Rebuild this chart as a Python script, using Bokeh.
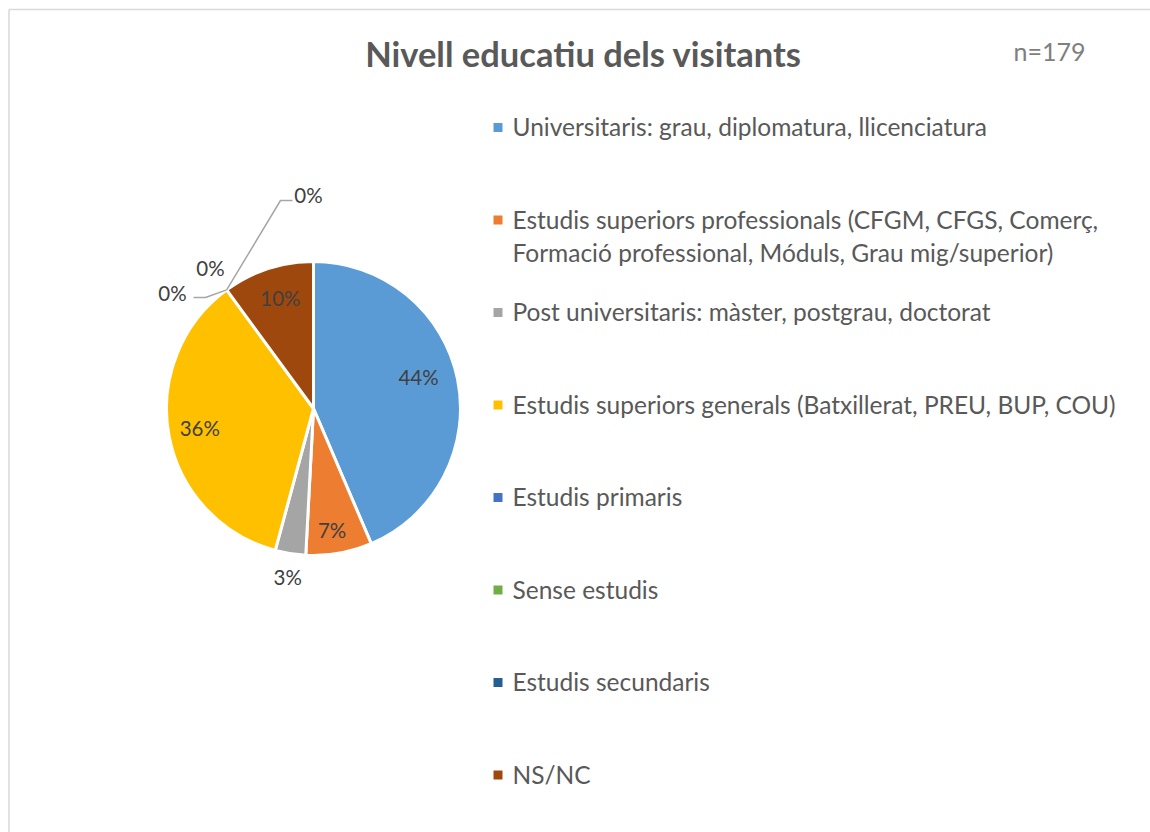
import numpy as np
from bokeh.plotting import figure
from bokeh.models import Range1d, ColumnDataSource
from bokeh.core.properties import value
from bokeh.embed import file_html
from bokeh.resources import INLINE

# ---------------- data ----------------
title_text = "Nivell educatiu dels visitants"
n_text = "n=179"
categories = [
    "Universitaris: grau, diplomatura, llicenciatura",
    "Estudis superiors professionals (CFGM, CFGS, Comerç,\nFormació professional, Móduls, Grau mig/superior)",
    "Post universitaris: màster, postgrau, doctorat",
    "Estudis superiors generals (Batxillerat, PREU, BUP, COU)",
    "Estudis primaris",
    "Sense estudis",
    "Estudis secundaris",
    "NS/NC",
]
counts = [78, 13, 6, 64, 0, 0, 0, 18]
colors = ["#5B9BD5", "#ED7D31", "#A5A5A5", "#FFC000",
          "#4472C4", "#70AD47", "#255E91", "#9E480E"]

# ---------------- layout / style ----------------
W, H = 1150, 832
FONT = "Lato"


def sx(x):  # screen x -> data x
    return x


def sy(y):  # screen y -> data y
    return H - y


p = figure(width=W, height=H, output_backend="svg", toolbar_location=None,
           x_range=Range1d(0, W), y_range=Range1d(0, H), min_border=0)
p.axis.visible = False
p.grid.visible = False
p.outline_line_color = None
p.background_fill_color = "white"
p.border_fill_color = "white"

# chart-area border (top and left edges visible)
p.segment(x0=[sx(8.5), sx(8.5)], y0=[sy(9), sy(9)], x1=[sx(8.5), W + 10],
          y1=[-10, sy(9)], line_color="#D9D9D9", line_width=1.5)

# ---------------- pie ----------------
cx, cy, R = sx(313), sy(408), 147
vals = np.array(counts, dtype=float)
frac = vals / vals.sum()
cum = np.cumsum(frac)
start = np.concatenate([[0.0], cum[:-1]])
a0 = np.pi / 2 - 2 * np.pi * start
a1 = np.pi / 2 - 2 * np.pi * cum
amid = (a0 + a1) / 2

nz = vals > 0
src = ColumnDataSource(dict(start=a0[nz], end=a1[nz],
                            color=[c for c, k in zip(colors, nz) if k]))
p.wedge(x=cx, y=cy, radius=R, start_angle="start", end_angle="end",
        direction="clock", fill_color="color", line_color="white",
        line_width=3, source=src)

# percentage labels (placed along mid-angle, with small placement nudges)
pct = [f"{round(100 * f)}%" for f in frac]
r_fac = [0.75, 0.84, 1.16, 0.78, None, None, None, 0.79]
nudge = [(-3, 9), (-3, 0), (1, 0), (-1, 2), None, None, None, (3, 0)]
zero_off = {4: (-141, 116), 5: (-103, 141), 6: (-5, 214)}
lx, ly, lt = [], [], []
for i in range(len(counts)):
    if i in zero_off:
        dx, dy = zero_off[i]
        lx.append(cx + dx)
        ly.append(cy + dy)
    else:
        lx.append(cx + r_fac[i] * R * np.cos(amid[i]) + nudge[i][0])
        ly.append(cy + r_fac[i] * R * np.sin(amid[i]) + nudge[i][1])
    lt.append(pct[i])
p.text(x=lx, y=ly, text=lt, text_font=value(FONT), text_font_size="20.5px",
       text_color="#404040", text_align="center", text_baseline="middle")

# leader lines for zero slices
ex = cx + R * np.cos(a0[7])
ey = cy + R * np.sin(a0[7])
p.line(x=[ex, cx - 108, cx - 120], y=[ey, cy + 111, cy + 111],
       line_color="#A6A6A6", line_width=1.5)
p.line(x=[ex, cx - 33, cx - 21], y=[ey, cy + 208, cy + 208],
       line_color="#A6A6A6", line_width=1.5)

# ---------------- title ----------------
p.text(x=[sx(583)], y=[sy(53)], text=[title_text], text_font=value(FONT),
       text_font_size="34.5px", text_font_style="bold", text_color="#595959",
       text_align="center", text_baseline="middle")
p.text(x=[sx(1013)], y=[sy(50)], text=[n_text], text_font=value(FONT),
       text_font_size="25px", text_color="#7F7F7F",
       text_align="left", text_baseline="middle")

# ---------------- legend ----------------
row_y0, row_step, line_step = 126, 92.5, 33
mx, my, tx, ty, tt = [], [], [], [], []
for i, lab in enumerate(categories):
    y0 = row_y0 + i * row_step
    mx.append(sx(497.5))
    my.append(sy(y0 + 1))
    for j, line in enumerate(lab.split("\n")):
        tx.append(sx(512))
        ty.append(sy(y0 + j * line_step))
        tt.append(line)
p.scatter(x=mx, y=my, marker="square", size=9, fill_color=colors,
          line_color=None)
p.text(x=tx, y=ty, text=tt, text_font=value(FONT), text_font_size="24.5px",
       text_color="#595959", text_align="left", text_baseline="middle")

open("out.html", "w").write(file_html(p, INLINE))
